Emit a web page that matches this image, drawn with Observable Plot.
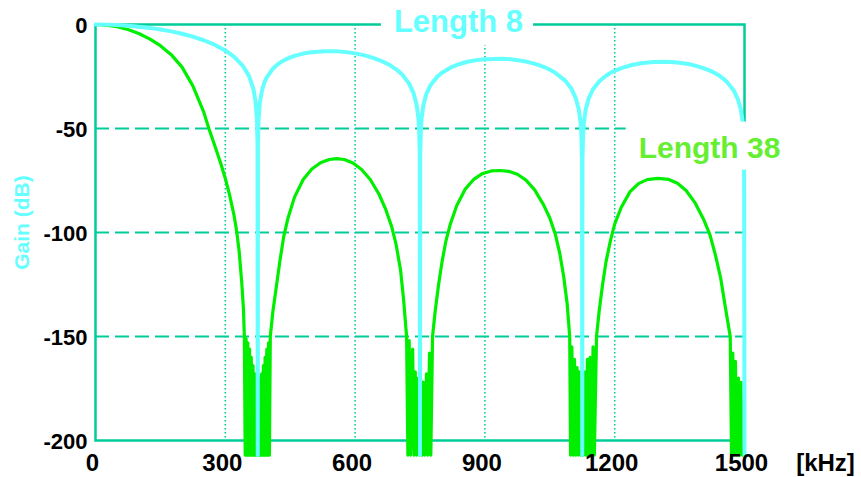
<!DOCTYPE html>
<html><head><meta charset="utf-8">
<script src="https://cdn.jsdelivr.net/npm/d3@7"></script>
<script src="https://cdn.jsdelivr.net/npm/@observablehq/plot@0.6"></script>
<style>body{margin:0;background:#fff} svg text{font-weight:bold}</style>
</head><body><div id="chart"></div>
<script>
// ---- data (kHz, dB) ----
const xTicks = [0, 300, 600, 900, 1200, 1500];
const yTicks = [0, -50, -100, -150, -200];
const xGrid = [300, 600, 900, 1200];
const yGrid = [-50, -100, -150];
const seriesNames = ["Length 8", "Length 38"];
const axisLabels = ["Gain (dB)", "[kHz]"];

const len8F = [0,25,50,75,100,125,150,175,200,225,250,275,300,320,340,355,365,370,373,374.5,375,375.5,377,380,385,390,395,410,420,430,445,460,480,500,530,560,580,600,620,640,660,680,695,710,725,735,742,746,748,749.5,750,750.5,752,754,758,765,775,790,800,820,840,860,880,900,940,960,980,1000,1020,1040,1060,1085,1100,1110,1117,1121,1123,1124.5,1125,1125.5,1127,1129,1133,1140,1150,1165,1180,1195,1215,1240,1265,1290,1310,1330,1350,1370,1390,1410,1425,1440,1450,1460,1475,1485,1491,1495,1497.5,1499,1500];
const len8Db = [0,-0.06,-0.25,-0.57,-1.03,-1.63,-2.38,-3.32,-4.47,-5.86,-7.57,-9.71,-12.48,-15.44,-19.73,-24.82,-31.04,-37.17,-45.19,-57.3,-207,-57.3,-45.27,-37.39,-31.48,-28.08,-25.7,-21.23,-19.33,-17.88,-16.25,-15.08,-13.98,-13.29,-12.82,-12.92,-13.28,-13.88,-14.73,-15.91,-17.44,-19.51,-21.56,-24.33,-28.46,-32.95,-38.46,-44.51,-50.55,-62.6,-207,-62.6,-50.59,-44.58,-38.61,-33.22,-28.92,-25.06,-23.3,-20.78,-19.09,-17.93,-17.13,-16.66,-16.48,-16.75,-17.26,-18.06,-19.18,-20.71,-22.82,-26.87,-30.92,-35.36,-40.83,-46.86,-52.88,-64.9,-207,-64.9,-52.9,-46.89,-40.89,-35.47,-31.11,-27.18,-24.61,-22.75,-20.96,-19.45,-18.5,-18.01,-17.89,-18.01,-18.39,-19.02,-19.99,-21.32,-22.65,-24.39,-25.86,-27.71,-31.7,-36.1,-40.52,-45.62,-51.64,-59.6,-207];

const len38F = [0,25,50,75,100,125,150,175,200,225,250,262,275,289,300,310,320,326,332,338,342,344,
  346,348,350,352,354,356,358,360,362,364,366,368,370,372,374,376,378,380,382,384,386,388,390,392,394,396,398,400,402,404,
  410,418,426,435,445,460,480,500,520,540,557,575,595,615,635,655,670,685,695,705,712,719,
  722,725,728,733,736,739,742,746,749,752,755,758,761,765,768,772,775,779,
  785,793,801,810,820,835,855,875,895,915,935,955,975,995,1015,1035,1050,1063,1073,1082,1090,1096,
  1098,1101,1104,1107,1110,1113,1116,1119,1122,1125,1128,1131,1134,1137,1140,1143,1146,1150,1153,1158,
  1164,1172,1180,1190,1200,1215,1235,1255,1275,1300,1325,1345,1365,1385,1405,1420,1433,1445,1455,1467,
  1470,1473,1476,1479,1482,1486,1489,1492,1495];
const len38Db = [0,-0.3,-1.1,-2.4,-4.3,-6.9,-10.2,-14.5,-20.5,-29.5,-42,-50,-57.8,-66.5,-74,-82,-91.5,-99,-109,-124,-137,-150,
  -207,-151,-207,-153,-207,-156,-207,-160,-207,-164,-207,-168,-207,-170,-207,-171,-207,-170,-207,-168,-207,-164,-207,-160,-207,-156,-207,-153,-207,-150,
  -138,-126,-114,-102,-93,-83,-74.5,-69.5,-66.5,-64.9,-64.5,-64.9,-66.6,-69.7,-74.5,-81.5,-88.5,-97.5,-106,-118,-132,-150,
  -207,-152,-207,-156,-207,-167,-207,-170,-207,-171,-207,-172,-207,-168,-207,-158,-207,-150,
  -138,-125,-114,-104,-96,-87,-79,-74.3,-71.6,-70.4,-70.2,-70.6,-72,-74.8,-79.5,-86.5,-93,-101,-110,-121,-134,-150,
  -207,-155,-207,-161,-207,-165,-207,-167,-207,-170,-207,-167,-207,-161,-207,-160,-207,-155,-207,-150,
  -138,-125,-114,-104,-96,-88,-80.5,-76.5,-74.6,-74,-74.5,-76.3,-79.8,-85.5,-93.5,-101,-111,-122,-135,-150,
  -207,-158,-207,-162,-207,-170,-207,-172,-207];

const len8 = len8F.map((f, i) => ({f, db: len8Db[i]}));
const len38 = len38F.map((f, i) => ({f, db: len38Db[i]}));

// ---- styles ----
const FONT = "'Liberation Sans', Arial, Helvetica, sans-serif";
const GRID = "#00cc99";
const CYAN = "#66ffff";
const GREEN = "#00ee00";
const GREEN_LABEL = "#66ee33";

const chart = Plot.plot({
  width: 861, height: 477,
  marginLeft: 95, marginRight: 117, marginTop: 24, marginBottom: 37,
  style: {fontFamily: FONT, background: "white", overflow: "visible"},
  x: {domain: [0, 1500], axis: null},
  y: {domain: [-200, 0], axis: null},
  marks: [
    Plot.gridX(xGrid, {stroke: GRID, strokeOpacity: 1, strokeWidth: 1.6, strokeDasharray: "1.6,2.4"}),
    Plot.gridY(yGrid, {stroke: GRID, strokeOpacity: 1, strokeWidth: 2, strokeDasharray: "14,6"}),
    Plot.frame({stroke: GRID, strokeWidth: 2.5}),
    Plot.line(len38, {x: "f", y: "db", stroke: GREEN, strokeWidth: 3.2}),
    Plot.line(len8, {x: "f", y: "db", stroke: CYAN, strokeWidth: 4}),
    Plot.axisY(yTicks, {label: null, tickSize: 0, tickPadding: 8, fontSize: 22, fontWeight: "bold", fill: "black", dy: 1.5, tickFormat: d => String(d)}),
    Plot.axisX(xTicks, {label: null, tickSize: 0, tickPadding: 13, fontSize: 24, fontWeight: "bold", fill: "black", dx: -3, tickFormat: d => String(d)}),
    Plot.text([axisLabels[1]], {frameAnchor: "bottom-right", text: d => d, textAnchor: "middle", lineAnchor: "top", dx: 81, dy: 13, fontSize: 24, fontWeight: "bold", fill: "black"}),
    Plot.text([axisLabels[0]], {frameAnchor: "left", text: d => d, textAnchor: "middle", lineAnchor: "middle", rotate: -90, dx: -73, dy: -10, fontSize: 21, fontWeight: "bold", fill: CYAN}),
    Plot.text([seriesNames[0]], {frameAnchor: "top-left", text: d => d, textAnchor: "middle", lineAnchor: "middle", dx: 363, dy: -2.5, fontSize: 31, fontWeight: "bold", fill: CYAN}),
    Plot.text([seriesNames[1]], {frameAnchor: "top-left", text: d => d, textAnchor: "middle", lineAnchor: "middle", dx: 614, dy: 123.5, fontSize: 30, fontWeight: "bold", fill: GREEN_LABEL})
  ]
});
document.getElementById("chart").appendChild(chart);

// white label boxes behind series labels
const svgRect = chart.getBoundingClientRect();
const pads = {"Length 8": [13, 10, 4, 6], "Length 38": [13, 7, 9, 6]}; // left,right,top,bottom
chart.querySelectorAll("text").forEach(t => {
  const key = t.textContent;
  if (!(key in pads)) return;
  const [pl, pr, pt, pb] = pads[key];
  const r = t.getBoundingClientRect();
  const rect = document.createElementNS("http://www.w3.org/2000/svg", "rect");
  rect.setAttribute("x", r.left - svgRect.left - pl);
  rect.setAttribute("y", r.top - svgRect.top - pt);
  rect.setAttribute("width", r.width + pl + pr);
  rect.setAttribute("height", r.height + pt + pb);
  rect.setAttribute("fill", "white");
  const g = t.closest("g");
  g.parentNode.insertBefore(rect, g);
});
</script>
</body></html>
